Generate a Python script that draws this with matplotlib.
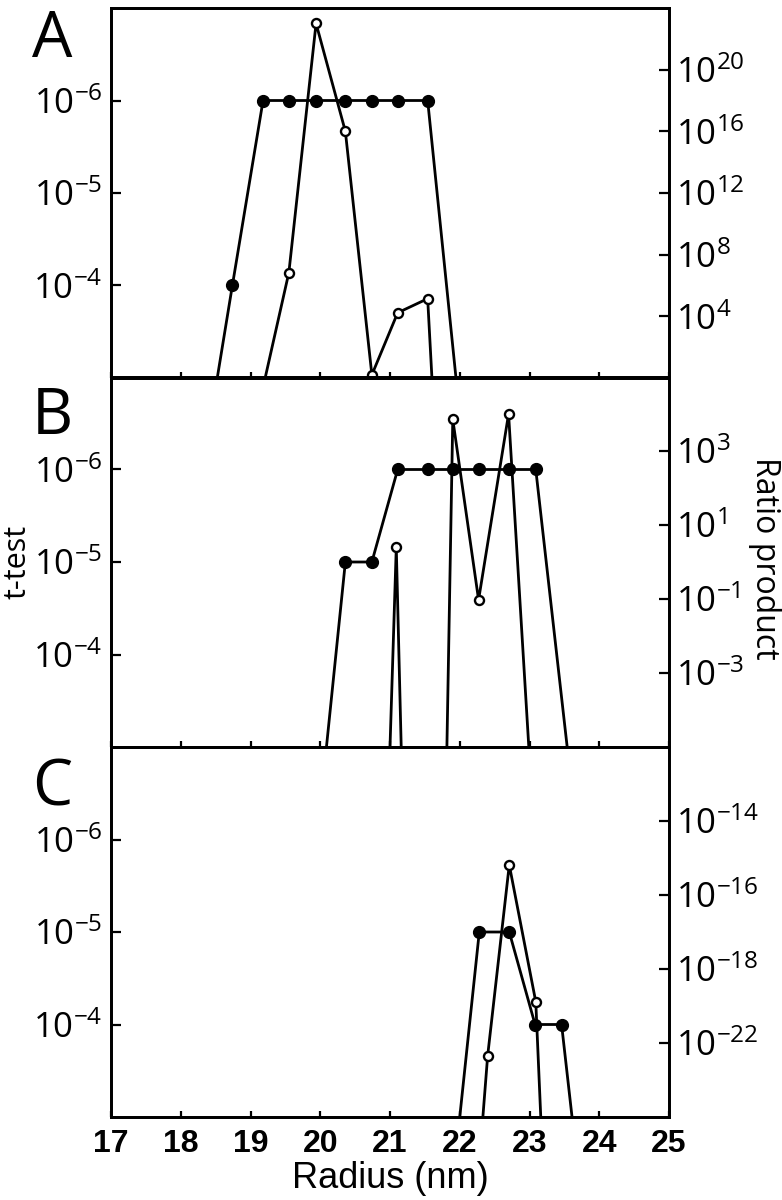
import matplotlib
matplotlib.use("Agg")
import matplotlib.pyplot as plt
from matplotlib.ticker import FixedLocator, FixedFormatter, NullLocator

plt.rcParams['font.family'] = ['Open Sans', 'DejaVu Sans']
plt.rcParams['mathtext.fontset'] = 'custom'
plt.rcParams['mathtext.rm'] = 'Open Sans'
plt.rcParams['mathtext.it'] = 'Open Sans'
plt.rcParams['axes.unicode_minus'] = False

# x axis
xticks = [17, 18, 19, 20, 21, 22, 23, 24, 25]
xtick_labels = [str(t) for t in xticks]

# left axis (t-test), shared by all panels
ttest_ticks = [1e-6, 1e-5, 1e-4]
ttest_labels = [r'$\mathregular{10^{-6}}$', r'$\mathregular{10^{-5}}$', r'$\mathregular{10^{-4}}$']

# panel A
a_r_ttest = [18.35, 18.74, 19.18, 19.55, 19.94, 20.36, 20.74, 21.11, 21.54, 22.00]
a_ttest = [6.3e-3, 1e-4, 1e-6, 1e-6, 1e-6, 1e-6, 1e-6, 1e-6, 1e-6, 2.5e-3]
a_r_ratio = [19.18, 19.55, 19.94, 20.36, 20.74, 21.11, 21.54, 21.91]
a_ratio = [0.25, 6.9e6, 1e23, 1e16, 1.6, 1.7e4, 1.4e5, 1e-26]
a_ratio_ticks = [1e4, 1e8, 1e12, 1e16, 1e20]
a_ratio_labels = [r'$\mathregular{10^{4}}$', r'$\mathregular{10^{8}}$', r'$\mathregular{10^{12}}$',
                  r'$\mathregular{10^{16}}$', r'$\mathregular{10^{20}}$']

# panel B
b_r_ttest = [19.94, 20.36, 20.74, 21.11, 21.54, 21.91, 22.28, 22.70, 23.09, 23.60]
b_ttest = [1.25e-2, 1e-5, 1e-5, 1e-6, 1e-6, 1e-6, 1e-6, 1e-6, 1e-6, 2.5e-3]
b_r_ratio = [20.74, 21.09, 21.54, 21.90, 22.27, 22.70, 23.09]
b_ratio = [2.5e-21, 2.5, 1e-34, 7.2e3, 0.095, 1e4, 8e-9]
b_ratio_ticks = [1e-3, 1e-1, 1e1, 1e3]
b_ratio_labels = [r'$\mathregular{10^{-3}}$', r'$\mathregular{10^{-1}}$', r'$\mathregular{10^{1}}$',
                  r'$\mathregular{10^{3}}$']

# panel C
c_r_ttest = [21.91, 22.28, 22.71, 23.08, 23.46, 23.85]
c_ttest = [4.4e-3, 1e-5, 1e-5, 1e-4, 1e-4, 0.04]
c_r_ratio = [22.00, 22.40, 22.71, 23.09, 23.46]
c_ratio = [1e-30, 4.5e-21, 6.5e-16, 1.3e-19, 1e-35]
c_ratio_ticks = [1e-20, 1e-18, 1e-16, 1e-14]
c_ratio_labels = [r'$\mathregular{10^{-22}}$', r'$\mathregular{10^{-18}}$', r'$\mathregular{10^{-16}}$',
                  r'$\mathregular{10^{-14}}$']

panels = [
    ('A', a_r_ttest, a_ttest, a_r_ratio, a_ratio, (1, 1e24), a_ratio_ticks, a_ratio_labels),
    ('B', b_r_ttest, b_ttest, b_r_ratio, b_ratio, (1e-5, 1e5), b_ratio_ticks, b_ratio_labels),
    ('C', c_r_ttest, c_ttest, c_r_ratio, c_ratio, (1e-22, 1e-12), c_ratio_ticks, c_ratio_labels),
]

W, H = 782, 1200
fig = plt.figure(figsize=(W / 100, H / 100), dpi=100)

tops = [8, 377, 747]
letter_tops = [8, 385, 757]
ax_h = 370
lw = 2.0

for i, (letter, rt, tt, rr, rp, rlim, rticks, rlabels) in enumerate(panels):
    top = tops[i]
    ax = fig.add_axes([111 / W, 1 - (top + ax_h) / H, 558 / W, ax_h / H])
    ax2 = ax.twinx()

    ax.plot(rt, tt, '-o', color='black', lw=lw, ms=8.5, mfc='black', mec='black')
    ax2.plot(rr, rp, '-o', color='black', lw=lw, ms=6.5, mfc='white', mec='black', mew=1.7)

    ax.set_xlim(17, 25)
    ax.set_yscale('log')
    ax.set_ylim(1e-3, 1e-7)
    ax.yaxis.set_major_locator(FixedLocator(ttest_ticks))
    ax.yaxis.set_major_formatter(FixedFormatter(ttest_labels))
    ax.yaxis.set_minor_locator(NullLocator())

    ax2.set_yscale('log')
    ax2.set_ylim(*rlim)
    ax2.yaxis.set_major_locator(FixedLocator(rticks))
    ax2.yaxis.set_major_formatter(FixedFormatter(rlabels))
    ax2.yaxis.set_minor_locator(NullLocator())

    ax.set_zorder(ax2.get_zorder() + 1)
    ax.patch.set_visible(False)

    ax.set_xticks(xticks)
    ax.tick_params(axis='x', direction='in', length=4, width=1.6, top=False,
                   labelbottom=(i == 2))
    ax.tick_params(axis='y', direction='in', length=7.5, width=1.6, labelsize=25, pad=6)
    ax2.tick_params(axis='y', direction='in', length=7.5, width=1.6, labelsize=25, pad=5)
    for a in (ax, ax2):
        for s in a.spines.values():
            s.set_linewidth(2.0)

    fig.text(32 / W, 1 - letter_tops[i] / H, letter, fontsize=46, ha='left', va='top')

    if i == 2:
        ax.set_xticks(xticks, labels=xtick_labels)
        for lab in ax.get_xticklabels():
            lab.set_fontfamily('Liberation Sans')
            lab.set_fontweight('bold')
            lab.set_fontsize(23)
        ax.tick_params(axis='x', pad=9)
        ax.set_xlabel('Radius (nm)', fontfamily='Liberation Sans', fontsize=26, labelpad=1)

fig.text(17 / W, 1 - 562 / H, 't-test', fontsize=22, rotation=90, ha='center', va='center')
fig.text(764 / W, 1 - 558 / H, 'Ratio product', fontsize=23, rotation=270, ha='center', va='center')

fig.savefig('out.png', dpi=100)
